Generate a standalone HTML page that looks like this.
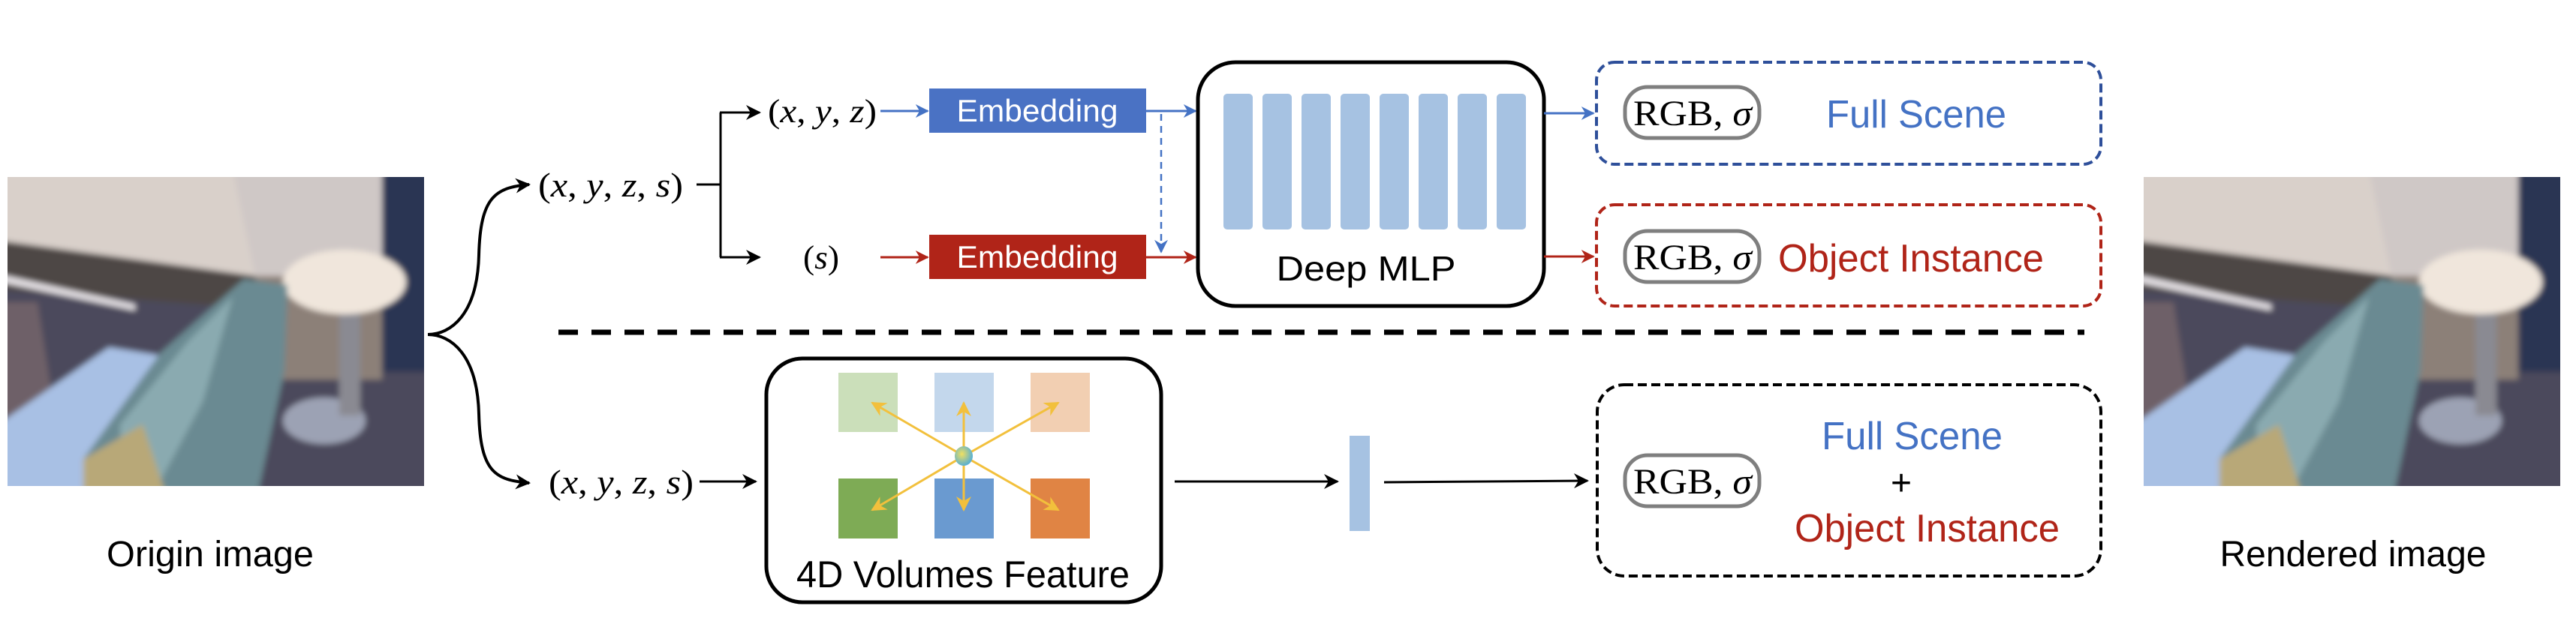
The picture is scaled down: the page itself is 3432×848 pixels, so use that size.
<!DOCTYPE html>
<html><head><meta charset="utf-8"><style>
html,body{margin:0;padding:0;background:#fff}
svg{display:block}
.s{font-family:"Liberation Sans",sans-serif}
.m{font-family:"Liberation Serif",serif}
</style></head><body>
<svg width="3432" height="848" viewBox="0 0 3432 848" xmlns="http://www.w3.org/2000/svg">
<defs>
<marker id="ak" viewBox="0 0 20 20" refX="18" refY="10" markerWidth="20" markerHeight="20" markerUnits="userSpaceOnUse" orient="auto"><path d="M0,0 L20,10 L0,20 L6,10 Z" fill="#000"/></marker>
<marker id="ab" viewBox="0 0 20 20" refX="18" refY="10" markerWidth="18" markerHeight="18" markerUnits="userSpaceOnUse" orient="auto"><path d="M0,0 L20,10 L0,20 L6,10 Z" fill="#4472c4"/></marker>
<marker id="ar" viewBox="0 0 20 20" refX="18" refY="10" markerWidth="18" markerHeight="18" markerUnits="userSpaceOnUse" orient="auto"><path d="M0,0 L20,10 L0,20 L6,10 Z" fill="#b02418"/></marker>
<marker id="ay" viewBox="0 0 20 20" refX="18" refY="10" markerWidth="20" markerHeight="20" markerUnits="userSpaceOnUse" orient="auto"><path d="M0,0 L20,10 L0,20 L6,10 Z" fill="#f2c03c"/></marker>
<filter id="bl"><feGaussianBlur stdDeviation="4"/></filter>
<radialGradient id="dot" cx="0.4" cy="0.4" r="0.6"><stop offset="0" stop-color="#f0e060"/><stop offset="1" stop-color="#5ab0d0"/></radialGradient>
<clipPath id="pc"><rect x="0" y="0" width="555" height="412"/></clipPath>
<g id="photo">
<g clip-path="url(#pc)"><g filter="url(#bl)">
<rect x="-10" y="-10" width="580" height="440" fill="#4c4a5c"/>
<polygon points="-10,-10 510,-10 510,132 330,132 -10,85" fill="#d9d0ca"/>
<polygon points="300,-10 510,-10 510,132 330,132" fill="#cfc8c6"/>
<polygon points="-10,85 330,132 330,175 -10,150" fill="#4e4644"/>
<polygon points="-10,130 170,170 170,178 -10,140" fill="#e8e4e8"/>
<rect x="499" y="-10" width="70" height="270" fill="#2a3552"/>
<polygon points="330,132 499,132 499,270 330,270" fill="#8c8078"/>
<polygon points="-10,167 40,167 65,330 -10,345" fill="#6e6068"/>
<ellipse cx="422" cy="325" rx="55" ry="31" fill="#9ca2b4"/>
<rect x="442" y="160" width="28" height="158" fill="#8a8a92"/>
<ellipse cx="449" cy="140" rx="82" ry="43" fill="#f0e6dc"/>
<polygon points="-10,328 135,227 204,238 105,420 -10,420" fill="#a8c0e4"/>
<polygon points="101,376 204,234 315,136 373,144 369,258 334,420 101,420" fill="#6a8a92"/>
<polygon points="150,330 240,220 300,160 260,300 200,412 150,412" fill="#8aaab0"/>
<polygon points="101,376 180,330 210,420 101,420" fill="#b8a878"/>
</g></g>
</g>
</defs>

<use href="#photo" x="10" y="236"/>
<use href="#photo" x="2856" y="236"/>
<text class="s" x="280" y="755" font-size="48" text-anchor="middle" textLength="276" lengthAdjust="spacingAndGlyphs">Origin image</text>
<text class="s" x="3135" y="755" font-size="48" text-anchor="middle" textLength="355" lengthAdjust="spacingAndGlyphs">Rendered image</text>

<path d="M570,446 C600,446 636,420 638,340 C640,262 660,250 705,246" fill="none" stroke="#000" stroke-width="4" marker-end="url(#ak)"/>
<path d="M570,446 C600,446 636,472 638,552 C640,630 660,640 705,644" fill="none" stroke="#000" stroke-width="4" marker-end="url(#ak)"/>

<text class="m" x="717" y="262" font-size="46" textLength="193" lengthAdjust="spacingAndGlyphs">(<tspan font-style="italic">x</tspan>, <tspan font-style="italic">y</tspan>, <tspan font-style="italic">z</tspan>, <tspan font-style="italic">s</tspan>)</text>
<path d="M928,246 H960 M960,150 V343" stroke="#000" stroke-width="3" fill="none"/>
<line x1="959" y1="150" x2="1012" y2="150" stroke="#000" stroke-width="3" marker-end="url(#ak)"/>
<line x1="959" y1="343" x2="1012" y2="343" stroke="#000" stroke-width="3" marker-end="url(#ak)"/>
<text class="m" x="1023" y="163" font-size="44" textLength="145" lengthAdjust="spacingAndGlyphs">(<tspan font-style="italic">x</tspan>, <tspan font-style="italic">y</tspan>, <tspan font-style="italic">z</tspan>)</text>
<text class="m" x="1070" y="358" font-size="44" textLength="48" lengthAdjust="spacingAndGlyphs">(<tspan font-style="italic">s</tspan>)</text>
<line x1="1173" y1="148" x2="1236" y2="148" stroke="#4472c4" stroke-width="3" marker-end="url(#ab)"/>
<line x1="1173" y1="343" x2="1236" y2="343" stroke="#b02418" stroke-width="3" marker-end="url(#ar)"/>
<rect x="1238" y="118" width="289" height="59" fill="#4a72c4"/>
<rect x="1238" y="313" width="289" height="59" fill="#b02418"/>
<text class="s" x="1382" y="162" font-size="42" fill="#fff" text-anchor="middle" textLength="215" lengthAdjust="spacingAndGlyphs">Embedding</text>
<text class="s" x="1382" y="357" font-size="42" fill="#fff" text-anchor="middle" textLength="215" lengthAdjust="spacingAndGlyphs">Embedding</text>
<line x1="1527" y1="148" x2="1593" y2="148" stroke="#4472c4" stroke-width="3" marker-end="url(#ab)"/>
<line x1="1527" y1="343" x2="1593" y2="343" stroke="#b02418" stroke-width="3" marker-end="url(#ar)"/>
<line x1="1547" y1="152" x2="1547" y2="336" stroke="#4472c4" stroke-width="2.5" stroke-dasharray="9,7" marker-end="url(#ab)"/>

<rect x="1596" y="83" width="461" height="325" rx="50" fill="#fff" stroke="#000" stroke-width="5"/>
<g fill="#a6c2e2">
<rect x="1630" y="125" width="39" height="181" rx="5"/><rect x="1682" y="125" width="39" height="181" rx="5"/>
<rect x="1734" y="125" width="39" height="181" rx="5"/><rect x="1786" y="125" width="39" height="181" rx="5"/>
<rect x="1838" y="125" width="39" height="181" rx="5"/><rect x="1890" y="125" width="39" height="181" rx="5"/>
<rect x="1942" y="125" width="39" height="181" rx="5"/><rect x="1994" y="125" width="39" height="181" rx="5"/>
</g>
<text class="s" x="1820" y="374" font-size="46" text-anchor="middle" textLength="239" lengthAdjust="spacingAndGlyphs">Deep MLP</text>
<line x1="2057" y1="151" x2="2123" y2="151" stroke="#4472c4" stroke-width="3" marker-end="url(#ab)"/>
<line x1="2057" y1="342" x2="2123" y2="342" stroke="#b02418" stroke-width="3" marker-end="url(#ar)"/>

<rect x="2127" y="83" width="672" height="136" rx="24" fill="none" stroke="#2e4f9a" stroke-width="4" stroke-dasharray="12,6"/>
<rect x="2127" y="273" width="672" height="135" rx="24" fill="none" stroke="#b02418" stroke-width="4" stroke-dasharray="12,6"/>
<rect x="2165" y="116" width="179" height="68" rx="30" fill="none" stroke="#7f7f7f" stroke-width="5"/>
<rect x="2165" y="308" width="179" height="68" rx="30" fill="none" stroke="#7f7f7f" stroke-width="5"/>
<text class="m" x="2176" y="167" font-size="48" textLength="158" lengthAdjust="spacingAndGlyphs">RGB, <tspan font-style="italic">σ</tspan></text>
<text class="m" x="2176" y="359" font-size="48" textLength="158" lengthAdjust="spacingAndGlyphs">RGB, <tspan font-style="italic">σ</tspan></text>
<text class="s" x="2433" y="170" font-size="52" fill="#4472c4" textLength="240" lengthAdjust="spacingAndGlyphs">Full Scene</text>
<text class="s" x="2369" y="362" font-size="52" fill="#b02418" textLength="354" lengthAdjust="spacingAndGlyphs">Object Instance</text>

<line x1="744" y1="443" x2="2777" y2="443" stroke="#000" stroke-width="7" stroke-dasharray="26,18"/>

<text class="m" x="731" y="658" font-size="46" textLength="193" lengthAdjust="spacingAndGlyphs">(<tspan font-style="italic">x</tspan>, <tspan font-style="italic">y</tspan>, <tspan font-style="italic">z</tspan>, <tspan font-style="italic">s</tspan>)</text>
<line x1="932" y1="642" x2="1007" y2="642" stroke="#000" stroke-width="3" marker-end="url(#ak)"/>
<rect x="1021" y="478" width="526" height="325" rx="48" fill="#fff" stroke="#000" stroke-width="5"/>
<rect x="1117" y="497" width="79" height="79" fill="#cbdfba"/>
<rect x="1245" y="497" width="79" height="79" fill="#c3d7ec"/>
<rect x="1373" y="497" width="79" height="79" fill="#f2cfb2"/>
<rect x="1117" y="638" width="79" height="80" fill="#7eab55"/>
<rect x="1245" y="638" width="79" height="80" fill="#6a9ad0"/>
<rect x="1373" y="638" width="79" height="80" fill="#e08444"/>
<g stroke="#f2c03c" stroke-width="3">
<line x1="1284" y1="608" x2="1162" y2="537" marker-end="url(#ay)"/>
<line x1="1284" y1="608" x2="1284" y2="537" marker-end="url(#ay)"/>
<line x1="1284" y1="608" x2="1410" y2="537" marker-end="url(#ay)"/>
<line x1="1284" y1="608" x2="1162" y2="680" marker-end="url(#ay)"/>
<line x1="1284" y1="608" x2="1284" y2="680" marker-end="url(#ay)"/>
<line x1="1284" y1="608" x2="1410" y2="680" marker-end="url(#ay)"/>
</g>
<ellipse cx="1284" cy="608" rx="12" ry="13" fill="url(#dot)"/>
<text class="s" x="1283" y="783" font-size="50" text-anchor="middle" textLength="444" lengthAdjust="spacingAndGlyphs">4D Volumes Feature</text>
<line x1="1565" y1="642" x2="1782" y2="642" stroke="#000" stroke-width="3" marker-end="url(#ak)"/>
<rect x="1798" y="581" width="27" height="127" fill="#a6c2e2"/>
<line x1="1844" y1="643" x2="2115" y2="641" stroke="#000" stroke-width="3" marker-end="url(#ak)"/>

<rect x="2128" y="513" width="671" height="255" rx="36" fill="none" stroke="#000" stroke-width="4" stroke-dasharray="12,6"/>
<rect x="2165" y="607" width="179" height="68" rx="30" fill="none" stroke="#7f7f7f" stroke-width="5"/>
<text class="m" x="2176" y="658" font-size="48" textLength="158" lengthAdjust="spacingAndGlyphs">RGB, <tspan font-style="italic">σ</tspan></text>
<text class="s" x="2427" y="599" font-size="52" fill="#4472c4" textLength="241" lengthAdjust="spacingAndGlyphs">Full Scene</text>
<text class="s" x="2533" y="660" font-size="48" text-anchor="middle">+</text>
<text class="s" x="2391" y="722" font-size="52" fill="#b02418" textLength="353" lengthAdjust="spacingAndGlyphs">Object Instance</text>
</svg>
</body></html>
